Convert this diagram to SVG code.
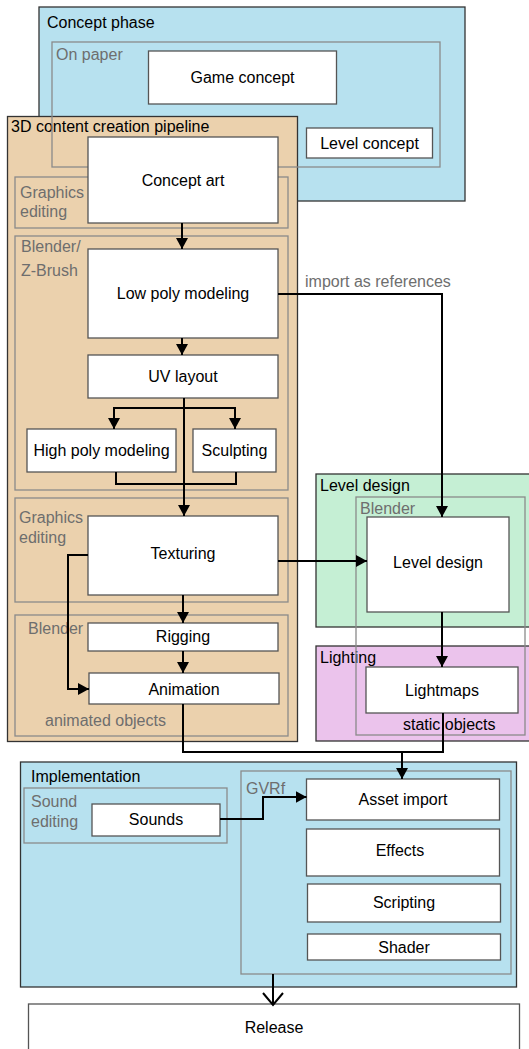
<svg xmlns="http://www.w3.org/2000/svg" width="529" height="1049" viewBox="0 0 529 1049">
<defs>
<style>
text{font-family:"Liberation Sans",Arial,sans-serif;font-size:16px;fill:#000}
text.g{fill:#6e6e6e}
.c{text-anchor:middle}
.node{fill:#fff;stroke:#555;stroke-width:1.3}
.cont{stroke:#333;stroke-width:1.3}
.sub{fill:none;stroke:#8a8a8a;stroke-width:1.3}
.blue{fill:#b7e1ef}
.tan{fill:#ebd1ad}
.green{fill:#c5efd4}
.pink{fill:#ebc3ec}
.conn path{fill:none;stroke:#000;stroke-width:2}
</style>
<marker id="ah" markerUnits="userSpaceOnUse" markerWidth="12" markerHeight="12" refX="11" refY="6" orient="auto"><path d="M0,0 L11,6 L0,12 z" fill="#000"/></marker>
<marker id="open" markerUnits="userSpaceOnUse" markerWidth="24" markerHeight="24" refX="13" refY="11" orient="auto"><path d="M1,1 L13,11 L1,21" fill="none" stroke="#000" stroke-width="2"/></marker>
</defs>

<g id="concept-phase">
<rect class="cont blue" x="39" y="7" width="426" height="194"/>
<text x="47" y="28">Concept phase</text>
</g>

<g id="pipeline">
<rect class="cont tan" x="7.5" y="116.5" width="290" height="625"/>
<text x="11" y="132">3D content creation pipeline</text>
</g>

<g id="on-paper">
<rect class="sub" x="52" y="42" width="388" height="125"/>
<text class="g" x="56" y="60">On paper</text>
</g>
<g id="game-concept"><rect class="node" x="148.5" y="51" width="188" height="53"/><text class="c" x="242.5" y="83">Game concept</text></g>
<g id="level-concept"><rect class="node" x="306.5" y="128" width="126" height="30"/><text class="c" x="369.5" y="149">Level concept</text></g>

<g id="graphics-editing-1"><rect class="sub" x="15" y="177" width="273" height="51"/><text class="g" x="20" y="198">Graphics</text><text class="g" x="20" y="217">editing</text></g>
<g id="blender-zbrush"><rect class="sub" x="15" y="236" width="273" height="254"/><text class="g" x="21" y="252">Blender/</text><text class="g" x="21" y="276">Z-Brush</text></g>
<g id="graphics-editing-2"><rect class="sub" x="15" y="498" width="273" height="104"/><text class="g" x="19" y="523">Graphics</text><text class="g" x="19" y="543">editing</text></g>
<g id="blender-anim"><rect class="sub" x="15" y="615" width="273" height="121"/><text class="g" x="28" y="634">Blender</text><text class="g" x="45" y="726">animated objects</text></g>

<g id="concept-art"><rect class="node" x="88" y="137" width="190" height="86"/><text class="c" x="183" y="186">Concept art</text></g>
<g id="low-poly"><rect class="node" x="88" y="249" width="190" height="89"/><text class="c" x="183" y="299">Low poly modeling</text></g>
<g id="uv-layout"><rect class="node" x="88" y="355" width="190" height="43"/><text class="c" x="183" y="382">UV layout</text></g>
<g id="high-poly"><rect class="node" x="27" y="429" width="149" height="43"/><text class="c" x="101.5" y="456">High poly modeling</text></g>
<g id="sculpting"><rect class="node" x="193" y="429" width="83" height="43"/><text class="c" x="234.5" y="456">Sculpting</text></g>
<g id="texturing"><rect class="node" x="88" y="516" width="190" height="79"/><text class="c" x="183" y="559">Texturing</text></g>
<g id="rigging"><rect class="node" x="88" y="623" width="190" height="28"/><text class="c" x="183" y="642">Rigging</text></g>
<g id="animation"><rect class="node" x="89" y="673" width="190" height="31"/><text class="c" x="184" y="695">Animation</text></g>

<g id="level-design-phase">
<rect class="cont green" x="316" y="474" width="216" height="153"/>
<text x="320" y="491">Level design</text>
</g>
<g id="lighting">
<rect class="cont pink" x="316" y="646" width="216" height="95"/>
<text x="320" y="663">Lighting</text>
</g>
<g id="blender-level"><rect class="sub" x="356" y="497" width="169" height="238"/><text class="g" x="360" y="514">Blender</text><text x="403" y="730">static objects</text></g>
<g id="level-design"><rect class="node" x="367" y="517" width="142" height="95"/><text class="c" x="438" y="568">Level design</text></g>
<g id="lightmaps"><rect class="node" x="366" y="667" width="152" height="46"/><text class="c" x="442" y="696">Lightmaps</text></g>

<g id="implementation">
<rect class="cont blue" x="20.5" y="762" width="496" height="225"/>
<text x="31" y="782">Implementation</text>
</g>
<g id="sound-editing"><rect class="sub" x="24" y="788" width="203" height="55"/><text class="g" x="31" y="807">Sound</text><text class="g" x="31" y="827">editing</text></g>
<g id="sounds"><rect class="node" x="92" y="804" width="128" height="32"/><text class="c" x="156" y="825">Sounds</text></g>
<g id="gvrf"><rect class="sub" x="241" y="771" width="270" height="203"/><text class="g" x="246" y="794">GVRf</text></g>
<g id="asset-import"><rect class="node" x="306.5" y="779" width="193" height="41"/><text class="c" x="403" y="805">Asset import</text></g>
<g id="effects"><rect class="node" x="306.5" y="829" width="193" height="47"/><text class="c" x="400" y="856">Effects</text></g>
<g id="scripting"><rect class="node" x="307.5" y="884" width="193" height="38"/><text class="c" x="404" y="908">Scripting</text></g>
<g id="shader"><rect class="node" x="307.5" y="934" width="193" height="26"/><text class="c" x="404" y="953">Shader</text></g>
<g id="release"><rect class="node" x="28.5" y="1004" width="491" height="50"/><text class="c" x="274" y="1033">Release</text></g>

<g id="edge-label"><text class="g" x="305" y="287">import as references</text></g>

<g id="connectors" class="conn">
<path d="M182,223 V249" marker-end="url(#ah)"/>
<path d="M182,338 V355" marker-end="url(#ah)"/>
<path d="M184,398 V516" marker-end="url(#ah)"/>
<path d="M184,408 H114 V429" marker-end="url(#ah)"/>
<path d="M184,408 H235 V429" marker-end="url(#ah)"/>
<path d="M116,472 V484 H236 V472"/>
<path d="M183,595 V623" marker-end="url(#ah)"/>
<path d="M183,651 V673" marker-end="url(#ah)"/>
<path d="M88,555 H68 V689 H89" marker-end="url(#ah)"/>
<path d="M278,561 H367" marker-end="url(#ah)"/>
<path d="M278,294 H442 V517" marker-end="url(#ah)"/>
<path d="M442,612 V667" marker-end="url(#ah)"/>
<path d="M183,704 V752 H443 V713"/>
<path d="M402,752 V779" marker-end="url(#ah)"/>
<path d="M220,819 H263 V797 H306.5" marker-end="url(#ah)"/>
<path d="M273,974 V1005" marker-end="url(#open)"/>
</g>
</svg>
